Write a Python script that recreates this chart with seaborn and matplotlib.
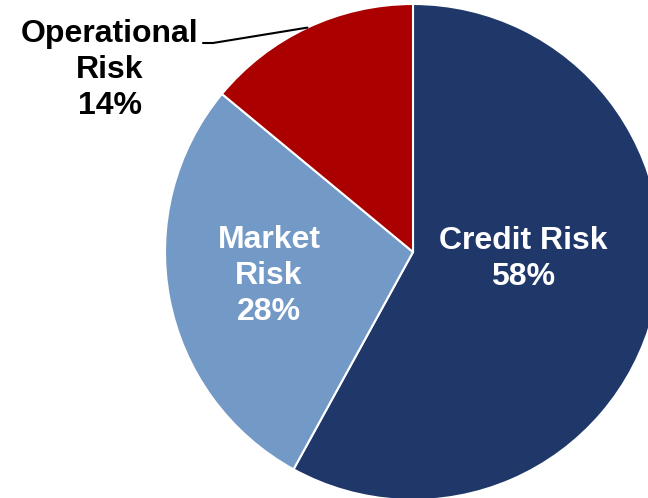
import numpy as np
import matplotlib
matplotlib.use("Agg")
import matplotlib.pyplot as plt
import seaborn as sns

# Data
categories = ["Credit Risk", "Market Risk", "Operational Risk"]
shares = [58, 28, 14]
colors = ["#1F3869", "#7399C6", "#AA0000"]

sns.set_theme(style="white")
plt.rcParams["font.family"] = ["Liberation Sans", "DejaVu Sans"]

W, H = 648, 498
fig = plt.figure(figsize=(W / 100, H / 100), dpi=100)
cx, cy, r = 413, 252, 248
ax = fig.add_axes([(cx - r) / W, (H - cy - r) / H, 2 * r / W, 2 * r / H])

wedges, _ = ax.pie(shares, colors=colors, startangle=90, counterclock=False,
                   radius=1, wedgeprops=dict(edgecolor="white", linewidth=1.5))
ax.set_xlim(-1, 1)
ax.set_ylim(-1, 1)
ax.set_aspect("equal")
ax.axis("off")

def px(x, y):
    return (x - cx) / r, (cy - y) / r

fs = 23
ls = 1.25
ax.text(*px(523, 259), f"Credit Risk\n{shares[0]}%", color="white", fontsize=fs,
        fontweight="bold", ha="center", va="center", linespacing=ls)
ax.text(*px(269, 276), f"Market\nRisk\n{shares[1]}%", color="white", fontsize=fs,
        fontweight="bold", ha="center", va="center", linespacing=ls)
ax.text(*px(110, 70), f"Operational\nRisk\n{shares[2]}%", color="black", fontsize=fs,
        fontweight="bold", ha="center", va="center", linespacing=ls, clip_on=False)

# leader line to the middle of the operational wedge
w = wedges[2]
mid = np.deg2rad((w.theta1 + w.theta2) / 2)
ex, ey = np.cos(mid), np.sin(mid)
x0, y0 = px(203, 43)
x1, _ = px(213, 43)
ax.plot([x0, x1, ex], [y0, y0, ey], color="black", lw=1.5, clip_on=False)

fig.savefig("out.png", dpi=100)
